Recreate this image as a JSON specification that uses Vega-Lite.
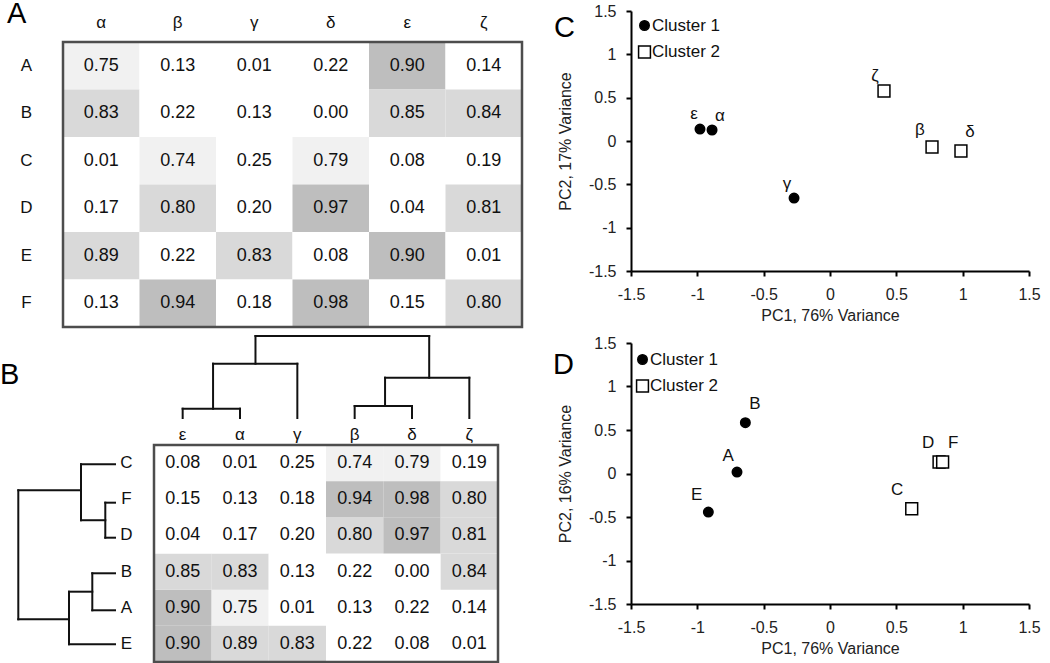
{
  "$schema": "https://vega.github.io/schema/vega-lite/v6.json",
  "padding": 0,
  "background": "white",
  "config": {
    "view": {"stroke": null},
    "font": "Liberation Sans",
    "axis": {"labelFont": "Liberation Sans", "titleFont": "Liberation Sans", "grid": false, "labelColor": "#111", "titleColor": "#111"},
    "legend": {"labelFont": "Liberation Sans"},
    "title": {"font": "Liberation Sans"}
  },
  "datasets": {
    "matrix": [
      {"row": "A", "col": "α", "value": 0.75}, {"row": "A", "col": "β", "value": 0.13}, {"row": "A", "col": "γ", "value": 0.01}, {"row": "A", "col": "δ", "value": 0.22}, {"row": "A", "col": "ε", "value": 0.90}, {"row": "A", "col": "ζ", "value": 0.14},
      {"row": "B", "col": "α", "value": 0.83}, {"row": "B", "col": "β", "value": 0.22}, {"row": "B", "col": "γ", "value": 0.13}, {"row": "B", "col": "δ", "value": 0.00}, {"row": "B", "col": "ε", "value": 0.85}, {"row": "B", "col": "ζ", "value": 0.84},
      {"row": "C", "col": "α", "value": 0.01}, {"row": "C", "col": "β", "value": 0.74}, {"row": "C", "col": "γ", "value": 0.25}, {"row": "C", "col": "δ", "value": 0.79}, {"row": "C", "col": "ε", "value": 0.08}, {"row": "C", "col": "ζ", "value": 0.19},
      {"row": "D", "col": "α", "value": 0.17}, {"row": "D", "col": "β", "value": 0.80}, {"row": "D", "col": "γ", "value": 0.20}, {"row": "D", "col": "δ", "value": 0.97}, {"row": "D", "col": "ε", "value": 0.04}, {"row": "D", "col": "ζ", "value": 0.81},
      {"row": "E", "col": "α", "value": 0.89}, {"row": "E", "col": "β", "value": 0.22}, {"row": "E", "col": "γ", "value": 0.83}, {"row": "E", "col": "δ", "value": 0.08}, {"row": "E", "col": "ε", "value": 0.90}, {"row": "E", "col": "ζ", "value": 0.01},
      {"row": "F", "col": "α", "value": 0.13}, {"row": "F", "col": "β", "value": 0.94}, {"row": "F", "col": "γ", "value": 0.18}, {"row": "F", "col": "δ", "value": 0.98}, {"row": "F", "col": "ε", "value": 0.15}, {"row": "F", "col": "ζ", "value": 0.80}
    ],
    "pcaC": [
      {"label": "α", "pc1": -0.889, "pc2": 0.127, "lx": -0.829, "ly": 0.289, "cluster": "Cluster 1"},
      {"label": "β", "pc1": 0.769, "pc2": -0.069, "lx": 0.678, "ly": 0.127, "cluster": "Cluster 2"},
      {"label": "γ", "pc1": -0.271, "pc2": -0.658, "lx": -0.324, "ly": -0.496, "cluster": "Cluster 1"},
      {"label": "δ", "pc1": 0.987, "pc2": -0.115, "lx": 1.055, "ly": 0.104, "cluster": "Cluster 2"},
      {"label": "ε", "pc1": -0.980, "pc2": 0.138, "lx": -1.025, "ly": 0.312, "cluster": "Cluster 1"},
      {"label": "ζ", "pc1": 0.407, "pc2": 0.577, "lx": 0.339, "ly": 0.750, "cluster": "Cluster 2"}
    ],
    "pcaD": [
      {"label": "A", "pc1": -0.701, "pc2": 0.017, "lx": -0.767, "ly": 0.198, "cluster": "Cluster 1"},
      {"label": "B", "pc1": -0.638, "pc2": 0.584, "lx": -0.565, "ly": 0.795, "cluster": "Cluster 1"},
      {"label": "C", "pc1": 0.616, "pc2": -0.405, "lx": 0.507, "ly": -0.190, "cluster": "Cluster 2"},
      {"label": "D", "pc1": 0.822, "pc2": 0.132, "lx": 0.739, "ly": 0.347, "cluster": "Cluster 2"},
      {"label": "E", "pc1": -0.917, "pc2": -0.443, "lx": -1.005, "ly": -0.251, "cluster": "Cluster 1"},
      {"label": "F", "pc1": 0.849, "pc2": 0.132, "lx": 0.929, "ly": 0.347, "cluster": "Cluster 2"}
    ],
    "colTree": [
      {"x": 0, "x2": 0, "y": 0, "y2": 9.3},
      {"x": 1, "x2": 1, "y": 0, "y2": 9.3},
      {"x": 0, "x2": 1, "y": 9.3, "y2": 9.3},
      {"x": 0.53, "x2": 0.53, "y": 9.3, "y2": 54.3},
      {"x": 2, "x2": 2, "y": 0, "y2": 54.3},
      {"x": 0.53, "x2": 2, "y": 54.3, "y2": 54.3},
      {"x": 1.27, "x2": 1.27, "y": 54.3, "y2": 82},
      {"x": 3, "x2": 3, "y": 0, "y2": 12},
      {"x": 4, "x2": 4, "y": 0, "y2": 12},
      {"x": 3, "x2": 4, "y": 12, "y2": 12},
      {"x": 3.53, "x2": 3.53, "y": 12, "y2": 40.3},
      {"x": 5, "x2": 5, "y": 0, "y2": 40.3},
      {"x": 3.53, "x2": 5, "y": 40.3, "y2": 40.3},
      {"x": 4.3, "x2": 4.3, "y": 40.3, "y2": 82},
      {"x": 1.27, "x2": 4.3, "y": 82, "y2": 82}
    ],
    "rowTree": [
      {"h": 0, "h2": 34, "r": 0.034, "r2": 0.034},
      {"h": 0, "h2": 9.7, "r": 1.095, "r2": 1.095},
      {"h": 0, "h2": 9.7, "r": 2.063, "r2": 2.063},
      {"h": 9.7, "h2": 9.7, "r": 1.095, "r2": 2.063},
      {"h": 9.7, "h2": 34, "r": 1.58, "r2": 1.58},
      {"h": 34, "h2": 34, "r": 0.034, "r2": 1.58},
      {"h": 34, "h2": 96.7, "r": 0.753, "r2": 0.753},
      {"h": 0, "h2": 22.7, "r": 3.047, "r2": 3.047},
      {"h": 0, "h2": 22.7, "r": 4.07, "r2": 4.07},
      {"h": 22.7, "h2": 22.7, "r": 3.047, "r2": 4.07},
      {"h": 22.7, "h2": 46, "r": 3.556, "r2": 3.556},
      {"h": 0, "h2": 46, "r": 5.01, "r2": 5.01},
      {"h": 46, "h2": 46, "r": 3.556, "r2": 5.01},
      {"h": 46, "h2": 96.7, "r": 4.32, "r2": 4.32},
      {"h": 96.7, "h2": 96.7, "r": 0.753, "r2": 4.32}
    ]
  },
  "columns": 2,
  "spacing": {"row": 8, "column": 109},
  "bounds": "flush",
  "align": "each",
  "resolve": {
    "scale": {"fill": "independent", "shape": "independent", "stroke": "independent"},
    "legend": {"fill": "independent", "shape": "independent", "stroke": "independent"}
  },
  "concat": [
    {
      "width": 504,
      "height": 316,
      "title": {"text": "A", "anchor": "start", "frame": "group", "orient": "top", "offset": 0, "baseline": "alphabetic", "dx": -11, "dy": 41, "fontSize": 29, "fontWeight": "normal", "color": "black"},
      "layer": [
        {
          "data": {"name": "matrix"},
          "encoding": {
            "x": {"field": "col", "type": "nominal", "scale": {"domain": ["α", "β", "γ", "δ", "ε", "ζ"], "range": [45, 504], "paddingInner": 0, "paddingOuter": 0},
              "axis": {"orient": "top", "offset": -31, "domain": false, "ticks": false, "tickSize": 0, "labelPadding": 20, "labelBaseline": "middle", "labelAngle": 0, "labelFontSize": 17, "labelColor": "#111", "title": null}},
            "y": {"field": "row", "type": "nominal", "scale": {"domain": ["A", "B", "C", "D", "E", "F"], "range": [31, 316], "paddingInner": 0, "paddingOuter": 0},
              "axis": {"orient": "left", "offset": -45, "domain": false, "ticks": false, "tickSize": 0, "labelPadding": 37, "labelAlign": "center", "labelBaseline": "middle", "labelFontSize": 17, "labelColor": "#111", "title": null}}
          },
          "layer": [
            {"mark": {"type": "rect"}, "encoding": {"fill": {"field": "value", "type": "quantitative", "scale": {"type": "threshold", "domain": [0.7, 0.8, 0.9], "range": ["#ffffff", "#f1f1f1", "#d9d9d9", "#bebebe"]}, "legend": null}}},
            {"mark": {"type": "text", "fontSize": 18, "color": "#111"}, "encoding": {"text": {"field": "value", "type": "quantitative", "format": ".2f"}}}
          ]
        },
        {
          "data": {"values": [{"part": "frame"}]},
          "mark": {"type": "rect", "filled": false, "stroke": "#4d4d4d", "strokeWidth": 2.5},
          "encoding": {
            "x": {"datum": 0, "type": "quantitative", "scale": {"domain": [0, 1], "range": [45, 504], "nice": false}, "axis": null},
            "x2": {"datum": 1},
            "y": {"datum": 0, "type": "quantitative", "scale": {"domain": [0, 1], "range": [31, 316], "nice": false}, "axis": null},
            "y2": {"datum": 1}
          }
        }
      ],
      "resolve": {"scale": {"x": "independent", "y": "independent"}}
    },
    {
      "width": 398,
      "height": 260,
      "title": {"text": "C", "anchor": "start", "frame": "group", "orient": "top", "offset": 0, "baseline": "alphabetic", "dx": -77, "dy": 63, "fontSize": 29, "fontWeight": "normal", "color": "black"},
      "data": {"name": "pcaC"},
      "layer": [
        {
          "mark": {"type": "point", "size": 90, "strokeWidth": 1.5, "opacity": 1, "fillOpacity": 1},
          "encoding": {
            "x": {"field": "pc1", "type": "quantitative", "title": "PC1, 76% Variance", "scale": {"domain": [-1.5, 1.5], "nice": false, "zero": false},
              "axis": {"values": [-1.5, -1, -0.5, 0, 0.5, 1, 1.5], "labelExpr": "'' + datum.value", "domainColor": "black", "domainWidth": 2, "tickColor": "black", "tickWidth": 2, "tickSize": 5, "labelFontSize": 16, "labelPadding": 10, "labelFlush": false, "labelOverlap": false, "titleFontSize": 16, "titleFontWeight": "normal", "titlePadding": 5, "labelColor": "#222", "titleColor": "#222"}},
            "y": {"field": "pc2", "type": "quantitative", "title": "PC2, 17% Variance", "scale": {"domain": [-1.5, 1.5], "nice": false, "zero": false},
              "axis": {"values": [-1.5, -1, -0.5, 0, 0.5, 1, 1.5], "labelExpr": "'' + datum.value", "domainColor": "black", "domainWidth": 2, "tickColor": "black", "tickWidth": 2, "tickSize": 5, "labelFontSize": 16, "labelPadding": 10, "labelFlush": false, "labelOverlap": false, "titleFontSize": 16, "titleFontWeight": "normal", "titlePadding": 15, "labelColor": "#222", "titleColor": "#222"}},
            "shape": {"field": "cluster", "type": "nominal", "scale": {"domain": ["Cluster 1", "Cluster 2"], "range": ["circle", "M-1.25,-1.25H1.25V1.25H-1.25Z"]},
              "legend": {"title": null, "orient": "none", "legendX": 5, "legendY": 6, "labelFontSize": 17, "labelColor": "#111", "symbolSize": 90, "symbolStrokeWidth": 1.5, "labelOffset": -1, "rowPadding": 8.5, "padding": 0}},
            "fill": {"field": "cluster", "type": "nominal", "scale": {"domain": ["Cluster 1", "Cluster 2"], "range": ["black", "white"]},
              "legend": {"title": null, "orient": "none", "legendX": 5, "legendY": 6, "labelFontSize": 17, "labelColor": "#111", "symbolSize": 90, "symbolStrokeWidth": 1.5, "labelOffset": -1, "rowPadding": 8.5, "padding": 0}},
            "stroke": {"field": "cluster", "type": "nominal", "scale": {"domain": ["Cluster 1", "Cluster 2"], "range": ["black", "black"]},
              "legend": {"title": null, "orient": "none", "legendX": 5, "legendY": 6, "labelFontSize": 17, "labelColor": "#111", "symbolSize": 90, "symbolStrokeWidth": 1.5, "labelOffset": -1, "rowPadding": 8.5, "padding": 0}}
          }
        },
        {
          "mark": {"type": "text", "fontSize": 17, "color": "#111"},
          "encoding": {
            "x": {"field": "lx", "type": "quantitative", "title": "PC1, 76% Variance"},
            "y": {"field": "ly", "type": "quantitative", "title": "PC2, 17% Variance"},
            "text": {"field": "label"}
          }
        }
      ]
    },
    {
      "width": 480,
      "height": 327,
      "title": {"text": "B", "anchor": "start", "frame": "group", "orient": "top", "offset": 0, "baseline": "alphabetic", "dx": -18, "dy": 78, "fontSize": 29, "fontWeight": "normal", "color": "black"},
      "layer": [
        {
          "data": {"name": "colTree"},
          "mark": {"type": "rule", "color": "#111", "strokeWidth": 2, "strokeCap": "square"},
          "encoding": {
            "x": {"field": "x", "type": "quantitative", "scale": {"domain": [0, 5], "range": [164.67, 451.33], "nice": false, "zero": false}, "axis": null},
            "x2": {"field": "x2"},
            "y": {"field": "y", "type": "quantitative", "scale": {"domain": [0, 83], "range": [83, 0], "nice": false, "zero": false}, "axis": null},
            "y2": {"field": "y2"}
          }
        },
        {
          "data": {"name": "rowTree"},
          "mark": {"type": "rule", "color": "#111", "strokeWidth": 2, "strokeCap": "square"},
          "encoding": {
            "x": {"field": "h", "type": "quantitative", "scale": {"domain": [0, 97], "range": [97, 0], "nice": false, "zero": false}, "axis": null},
            "x2": {"field": "h2"},
            "y": {"field": "r", "type": "quantitative", "scale": {"domain": [-0.5, 5.5], "range": [110, 327], "nice": false, "zero": false}, "axis": null},
            "y2": {"field": "r2"}
          }
        },
        {
          "data": {"name": "matrix"},
          "encoding": {
            "x": {"field": "col", "type": "nominal", "scale": {"domain": ["ε", "α", "γ", "β", "δ", "ζ"], "range": [136, 480], "paddingInner": 0, "paddingOuter": 0},
              "axis": {"orient": "top", "offset": -110, "domain": false, "ticks": false, "tickSize": 0, "labelPadding": 11, "labelBaseline": "middle", "labelAngle": 0, "labelFontSize": 17, "labelColor": "#111", "title": null}},
            "y": {"field": "row", "type": "nominal", "scale": {"domain": ["C", "F", "D", "B", "A", "E"], "range": [110, 327], "paddingInner": 0, "paddingOuter": 0},
              "axis": {"orient": "left", "offset": -136, "domain": false, "ticks": false, "tickSize": 0, "labelPadding": 28, "labelAlign": "center", "labelBaseline": "middle", "labelFontSize": 17, "labelColor": "#111", "title": null}}
          },
          "layer": [
            {"mark": {"type": "rect"}, "encoding": {"fill": {"field": "value", "type": "quantitative", "scale": {"type": "threshold", "domain": [0.7, 0.8, 0.9], "range": ["#ffffff", "#f1f1f1", "#d9d9d9", "#bebebe"]}, "legend": null}}},
            {"mark": {"type": "text", "fontSize": 18, "color": "#111"}, "encoding": {"text": {"field": "value", "type": "quantitative", "format": ".2f"}}}
          ]
        },
        {
          "data": {"values": [{"part": "frame"}]},
          "mark": {"type": "rect", "filled": false, "stroke": "#4d4d4d", "strokeWidth": 2.5},
          "encoding": {
            "x": {"datum": 0, "type": "quantitative", "scale": {"domain": [0, 1], "range": [136, 480], "nice": false}, "axis": null},
            "x2": {"datum": 1},
            "y": {"datum": 0, "type": "quantitative", "scale": {"domain": [0, 1], "range": [110, 327], "nice": false}, "axis": null},
            "y2": {"datum": 1}
          }
        }
      ],
      "resolve": {"scale": {"x": "independent", "y": "independent"}}
    },
    {
      "width": 398,
      "height": 269,
      "title": {"text": "D", "anchor": "start", "frame": "group", "orient": "top", "offset": 0, "baseline": "alphabetic", "dx": -78, "dy": 68, "fontSize": 29, "fontWeight": "normal", "color": "black"},
      "data": {"name": "pcaD"},
      "layer": [
        {
          "mark": {"type": "point", "size": 90, "strokeWidth": 1.5, "opacity": 1, "fillOpacity": 1},
          "encoding": {
            "x": {"field": "pc1", "type": "quantitative", "title": "PC1, 76% Variance", "scale": {"domain": [-1.5, 1.5], "nice": false, "zero": false},
              "axis": {"values": [-1.5, -1, -0.5, 0, 0.5, 1, 1.5], "labelExpr": "'' + datum.value", "domainColor": "black", "domainWidth": 2, "tickColor": "black", "tickWidth": 2, "tickSize": 5, "labelFontSize": 16, "labelPadding": 10, "labelFlush": false, "labelOverlap": false, "titleFontSize": 16, "titleFontWeight": "normal", "titlePadding": 5, "labelColor": "#222", "titleColor": "#222"}},
            "y": {"field": "pc2", "type": "quantitative", "title": "PC2, 16% Variance", "scale": {"domain": [-1.5, 1.5], "range": [269, 8], "nice": false, "zero": false},
              "axis": {"values": [-1.5, -1, -0.5, 0, 0.5, 1, 1.5], "labelExpr": "'' + datum.value", "domainColor": "black", "domainWidth": 2, "tickColor": "black", "tickWidth": 2, "tickSize": 5, "labelFontSize": 16, "labelPadding": 10, "labelFlush": false, "labelOverlap": false, "titleFontSize": 16, "titleFontWeight": "normal", "titlePadding": 15, "labelColor": "#222", "titleColor": "#222"}},
            "shape": {"field": "cluster", "type": "nominal", "scale": {"domain": ["Cluster 1", "Cluster 2"], "range": ["circle", "M-1.25,-1.25H1.25V1.25H-1.25Z"]},
              "legend": {"title": null, "orient": "none", "legendX": 3, "legendY": 16, "labelFontSize": 17, "labelColor": "#111", "symbolSize": 90, "symbolStrokeWidth": 1.5, "labelOffset": -1, "rowPadding": 8.5, "padding": 0}},
            "fill": {"field": "cluster", "type": "nominal", "scale": {"domain": ["Cluster 1", "Cluster 2"], "range": ["black", "white"]},
              "legend": {"title": null, "orient": "none", "legendX": 3, "legendY": 16, "labelFontSize": 17, "labelColor": "#111", "symbolSize": 90, "symbolStrokeWidth": 1.5, "labelOffset": -1, "rowPadding": 8.5, "padding": 0}},
            "stroke": {"field": "cluster", "type": "nominal", "scale": {"domain": ["Cluster 1", "Cluster 2"], "range": ["black", "black"]},
              "legend": {"title": null, "orient": "none", "legendX": 3, "legendY": 16, "labelFontSize": 17, "labelColor": "#111", "symbolSize": 90, "symbolStrokeWidth": 1.5, "labelOffset": -1, "rowPadding": 8.5, "padding": 0}}
          }
        },
        {
          "mark": {"type": "text", "fontSize": 17, "color": "#111"},
          "encoding": {
            "x": {"field": "lx", "type": "quantitative", "title": "PC1, 76% Variance"},
            "y": {"field": "ly", "type": "quantitative", "title": "PC2, 16% Variance"},
            "text": {"field": "label"}
          }
        }
      ]
    }
  ]
}
